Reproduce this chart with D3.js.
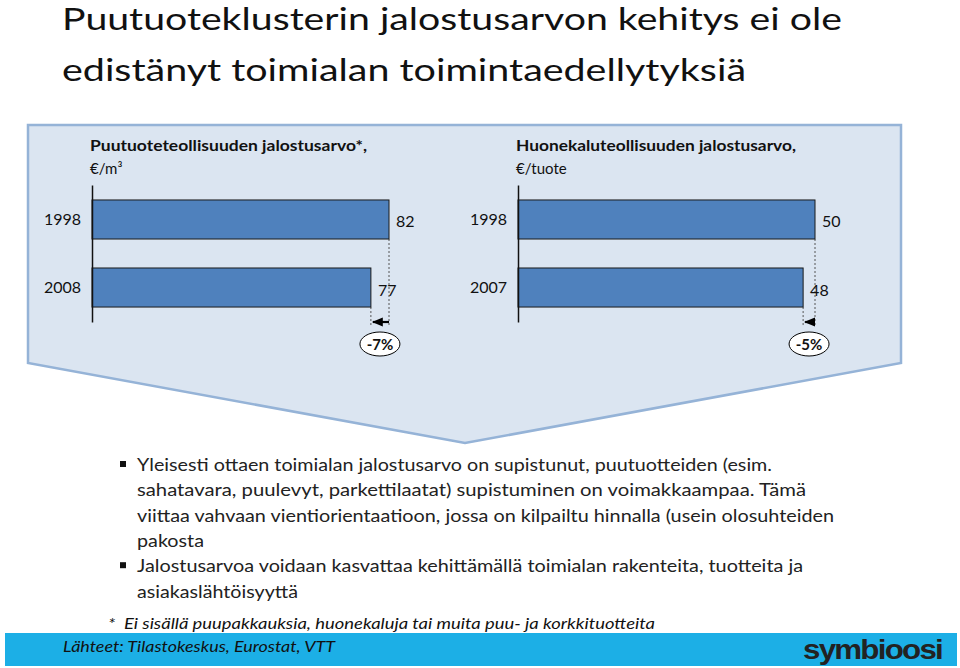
<!DOCTYPE html>
<html><head><meta charset="utf-8">
<script src="https://cdn.jsdelivr.net/npm/d3@7/dist/d3.min.js"></script>
<style>
html,body{margin:0;padding:0;background:#fff;}
svg{display:block;font-family:Lato,"Open Sans",sans-serif;}
</style></head>
<body>
<svg id="c" width="960" height="668"></svg>
<script>
// ---- data ----
const titleLines = ["Puutuoteklusterin jalostusarvon kehitys ei ole", "edistänyt toimialan toimintaedellytyksiä"];
const leftTitle = ["Puutuoteteollisuuden jalostusarvo*,", "€/m³"];
const leftYears = ["1998", "2008"];
const leftValues = [82, 77];
const leftChange = "-7%";
const rightTitle = ["Huonekaluteollisuuden jalostusarvo,", "€/tuote"];
const rightYears = ["1998", "2007"];
const rightValues = [50, 48];
const rightChange = "-5%";
const bullets = [
  ["Yleisesti ottaen toimialan jalostusarvo on supistunut, puutuotteiden (esim.",
   "sahatavara, puulevyt, parkettilaatat) supistuminen on voimakkaampaa. Tämä",
   "viittaa vahvaan vientiorientaatioon, jossa on kilpailtu hinnalla (usein olosuhteiden",
   "pakosta"],
  ["Jalostusarvoa voidaan kasvattaa kehittämällä toimialan rakenteita, tuotteita ja",
   "asiakaslähtöisyyttä"]
];
const footnote = "*  Ei sisällä puupakkauksia, huonekaluja tai muita puu- ja korkkituotteita";
const sources = "Lähteet: Tilastokeskus, Eurostat, VTT";
const logo = "symbioosi";

const svg = d3.select("#c");

// title
const tl = [{w: 780, y: 30}, {w: 684, y: 81}];
svg.selectAll("text.title").data(titleLines).join("text")
  .attr("class","title").attr("x",62).attr("y",(d,i)=>tl[i].y)
  .attr("font-size",30).attr("fill","#111")
  .attr("textLength",(d,i)=>tl[i].w).attr("lengthAdjust","spacingAndGlyphs")
  .text(d=>d);

// background panel
svg.append("polygon")
  .attr("points",[[28,125],[901,125],[901,363],[465,443],[28,363]].map(p=>p.join(",")).join(" "))
  .attr("fill","#dbe5f1").attr("stroke","#95b3d7").attr("stroke-width",2.5);

// arrow marker
svg.append("defs").append("marker").attr("id","arr")
  .attr("viewBox","0 0 10 10").attr("refX",9).attr("refY",5)
  .attr("markerWidth",5).attr("markerHeight",5).attr("orient","auto")
  .append("path").attr("d","M0,1 L10,5 L0,9 z").attr("fill","#000");

function drawChart(opts){
  const {titles, years, values, change, x0, titleX, titleWidth} = opts;
  const g = svg.append("g");
  const x = d3.scaleLinear().domain([0, d3.max(values)]).range([x0, x0+297]);
  const y = d3.scaleBand().domain(years).range([185,322]).paddingInner(0.426).paddingOuter(0.22);

  g.selectAll("text.ct").data(titles).join("text")
    .attr("x",titleX).attr("y",(d,i)=>151+i*23)
    .attr("font-size",15)
    .attr("font-weight",(d,i)=>i===0?"bold":"normal")
    .attr("fill","#111")
    .attr("textLength",(d,i)=>i===0?titleWidth:null)
    .attr("lengthAdjust","spacingAndGlyphs")
    .text(d=>d);

  // dashed guides
  const yArrow = 322;
  g.selectAll("line.guide").data(values).join("line")
    .attr("x1",d=>x(d)).attr("x2",d=>x(d))
    .attr("y1",(d,i)=>y(years[i])+y.bandwidth()).attr("y2",yArrow+4)
    .attr("stroke","#555").attr("stroke-width",1).attr("stroke-dasharray","2,2");

  // bars
  g.selectAll("rect.bar").data(values).join("rect")
    .attr("x",x(0)).attr("y",(d,i)=>y(years[i]))
    .attr("width",d=>x(d)-x(0)).attr("height",y.bandwidth())
    .attr("fill","#4f81bd").attr("stroke","#1a1a1a").attr("stroke-width",1);

  // value labels
  g.selectAll("text.val").data(values).join("text")
    .attr("x",d=>x(d)+7).attr("y",(d,i)=>y(years[i])+y.bandwidth()/2+8)
    .attr("font-size",16).attr("fill","#111").text(d=>d);

  // axis
  const ax = g.append("g").attr("transform",`translate(${x0},0)`)
    .call(d3.axisLeft(y).tickSize(0).tickSizeOuter(0).tickPadding(11));
  ax.select(".domain").attr("stroke","#111").attr("stroke-width",1.5);
  ax.selectAll("text").attr("font-size",16).attr("fill","#111")
    .attr("font-family","Lato,'Open Sans',sans-serif");

  // change arrow
  g.append("line").attr("x1",x(values[0])).attr("x2",x(values[1])+2)
    .attr("y1",yArrow).attr("y2",yArrow)
    .attr("stroke","#000").attr("stroke-width",2.2).attr("marker-end","url(#arr)");

  const cx = (x(values[0])+x(values[1]))/2;
  g.append("ellipse").attr("cx",cx).attr("cy",344).attr("rx",20).attr("ry",12)
    .attr("fill","#fff").attr("stroke","#000").attr("stroke-width",1);
  g.append("text").attr("x",cx).attr("y",349.5).attr("text-anchor","middle")
    .attr("font-size",15).attr("font-weight","bold").attr("fill","#111").text(change);
}

drawChart({titles:leftTitle, years:leftYears, values:leftValues, change:leftChange, x0:92, titleX:90, titleWidth:277});
drawChart({titles:rightTitle, years:rightYears, values:rightValues, change:rightChange, x0:518, titleX:516, titleWidth:280});

// bullets
const bw = [[635, 669, 697, 67], [666, 161]];
let line = 0;
bullets.forEach((b, bi) => {
  const yStart = 471 + line*25.3;
  svg.append("rect").attr("x",120).attr("y",yStart-10).attr("width",6).attr("height",6).attr("fill","#111");
  svg.selectAll(null).data(b).join("text")
    .attr("x",137).attr("y",(d,i)=>yStart + i*25.3)
    .attr("font-size",17).attr("fill","#222")
    .attr("textLength",(d,i)=>bw[bi][i]).attr("lengthAdjust","spacingAndGlyphs")
    .text(d=>d);
  line += b.length;
});

// footnote
svg.append("text").attr("x",108).attr("y",629).attr("font-size",15).attr("font-style","italic")
  .attr("fill","#111").attr("textLength",547).attr("lengthAdjust","spacingAndGlyphs").attr("xml:space","preserve").text(footnote);

// bottom band
svg.append("rect").attr("x",5).attr("y",633).attr("width",952).attr("height",33).attr("fill","#1cafe6");
svg.append("text").attr("x",63).attr("y",652).attr("font-size",15).attr("font-style","italic")
  .attr("fill","#111").attr("textLength",272).attr("lengthAdjust","spacingAndGlyphs").text(sources);
svg.append("text").attr("x",803).attr("y",659).attr("font-size",27).attr("font-weight",900)
  .attr("font-family","'Liberation Sans',Arial,sans-serif").attr("letter-spacing",-1.5)
  .attr("fill","#222").attr("textLength",139).attr("lengthAdjust","spacingAndGlyphs").text(logo);
</script>
</body></html>
